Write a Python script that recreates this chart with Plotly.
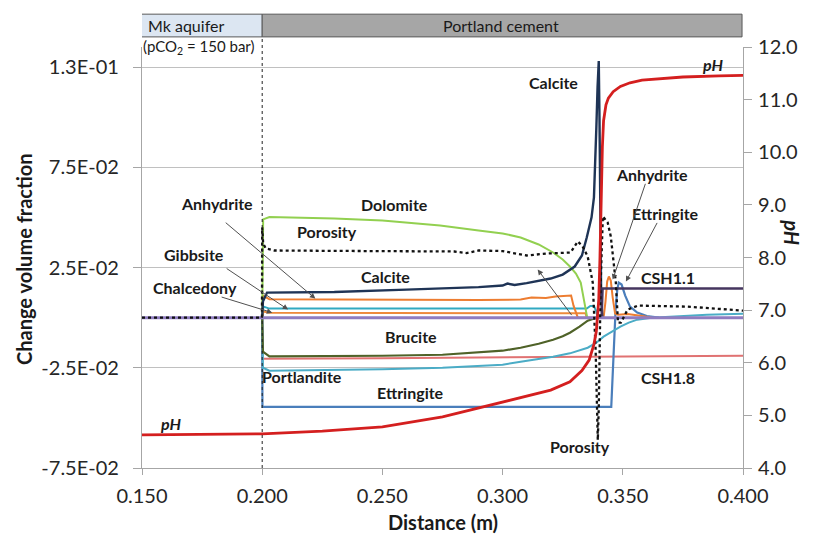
import plotly.graph_objects as go

# ---------------------------------------------------------------
# Reactive-transport profile: mineral volume-fraction change (left axis)
# and pH (right axis) across the Mk aquifer / Portland cement interface
# ---------------------------------------------------------------

# pH profile
ph_x = [0.150, 0.200, 0.225, 0.250, 0.275, 0.292, 0.300, 0.310, 0.320, 0.328,
        0.333, 0.336, 0.338, 0.339, 0.340, 0.3405, 0.341, 0.3415, 0.342, 0.343,
        0.344, 0.346, 0.349, 0.353, 0.358, 0.365, 0.375, 0.390, 0.400]
ph_val = [4.63, 4.65, 4.70, 4.78, 4.97, 5.16, 5.26, 5.36, 5.48, 5.64,
          5.85, 6.05, 6.35, 6.60, 7.20, 8.00, 9.20, 10.10, 10.60, 10.90,
          11.03, 11.15, 11.25, 11.32, 11.37, 11.40, 11.43, 11.45, 11.46]

# Calcite
calcite_x = [0.200, 0.2003, 0.202, 0.230, 0.260, 0.280, 0.290, 0.300, 0.302, 0.305,
             0.310, 0.320, 0.325, 0.330, 0.333, 0.335, 0.337, 0.338, 0.3385, 0.339,
             0.3395, 0.340, 0.3403, 0.3407, 0.341, 0.3415]
calcite_val = [0.0, 0.008, 0.0125, 0.0128, 0.0140, 0.0148, 0.0152, 0.0160, 0.0170, 0.0163,
               0.0172, 0.0195, 0.0215, 0.0255, 0.0310, 0.0400, 0.0500, 0.0600, 0.0750, 0.0950,
               0.1150, 0.1280, 0.1000, 0.0500, 0.0100, 0.0]

# Dolomite
dolomite_x = [0.200, 0.2004, 0.203, 0.230, 0.250, 0.274, 0.290, 0.300, 0.3075, 0.315,
              0.321, 0.325, 0.328, 0.3305, 0.3325, 0.334, 0.3352]
dolomite_val = [0.0, 0.049, 0.0502, 0.0495, 0.0485, 0.0460, 0.0435, 0.0420, 0.0400, 0.0365,
                0.0325, 0.0290, 0.0255, 0.0220, 0.0175, 0.0075, 0.0]

# Porosity
porosity_x = [0.150, 0.1999, 0.2000, 0.2004, 0.2015, 0.205, 0.230, 0.260, 0.280, 0.285,
              0.290, 0.300, 0.310, 0.3185, 0.3283, 0.3313, 0.3333, 0.3354, 0.3375, 0.3387,
              0.3396, 0.3400, 0.3408, 0.3417, 0.3437, 0.345, 0.3471, 0.348, 0.3492, 0.352,
              0.3563, 0.377, 0.400]
porosity_val = [0.0, 0.0, 0.045, 0.037, 0.0345, 0.0335, 0.0333, 0.0332, 0.0330, 0.0322,
                0.0335, 0.0332, 0.0310, 0.0320, 0.0325, 0.0380, 0.0355, 0.0305, 0.0175, -0.016,
                -0.061, -0.045, 0.0175, 0.0505, 0.0475, 0.0405, 0.0175, -0.0025, -0.0025, 0.004,
                0.006, 0.0055, 0.0035]

# Anhydrite
anhydrite_x = [0.200, 0.2003, 0.203, 0.250, 0.290, 0.3075, 0.312, 0.318, 0.322, 0.3285,
               0.3295, 0.3313, 0.342, 0.3428, 0.3435, 0.3442, 0.345, 0.3458, 0.3468, 0.348,
               0.352, 0.358, 0.362]
anhydrite_val = [0.0, 0.011, 0.0092, 0.0088, 0.0088, 0.0090, 0.0100, 0.0098, 0.0105, 0.0110,
                 0.0060, 0.0, 0.0, 0.0080, 0.0180, 0.0205, 0.0185, 0.0100, 0.0020, 0.0015,
                 0.0018, 0.0008, 0.0]

# Chalcedony
chalcedony_x = [0.200, 0.2005, 0.203, 0.330, 0.3345, 0.335]
chalcedony_val = [0.0, 0.0030, 0.0024, 0.0024, 0.0022, 0.0]

# Gibbsite
gibbsite_x = [0.200, 0.2005, 0.203, 0.300, 0.330, 0.335, 0.3365, 0.338, 0.339, 0.3395]
gibbsite_val = [0.0, 0.0055, 0.0045, 0.0045, 0.0045, 0.0045, 0.0058, 0.0058, 0.0030, 0.0]

# Portlandite
portlandite_x = [0.200, 0.2003, 0.203, 0.230, 0.250, 0.275, 0.290, 0.300, 0.3075, 0.315,
                 0.321, 0.328, 0.3354, 0.339, 0.342, 0.3455, 0.349, 0.3525, 0.356, 0.362,
                 0.3725, 0.385, 0.400]
portlandite_val = [0.0, -0.025, -0.0265, -0.0262, -0.0258, -0.0250, -0.0243, -0.0235, -0.0220, -0.0208,
                   -0.0195, -0.0178, -0.0150, -0.0125, -0.0095, -0.0070, -0.0045, -0.0025, -0.0010, 0.0,
                   0.0008, 0.0015, 0.0020]

# Brucite
brucite_x = [0.200, 0.2003, 0.203, 0.230, 0.250, 0.275, 0.290, 0.300, 0.3075, 0.315,
             0.321, 0.325, 0.328, 0.332, 0.3354, 0.3375, 0.339]
brucite_val = [0.0, -0.017, -0.0193, -0.0192, -0.0190, -0.0185, -0.0175, -0.0165, -0.0150, -0.0130,
               -0.0110, -0.0093, -0.0075, -0.0045, -0.0015, -0.0005, 0.0]

# Ettringite
ettringite_x = [0.200, 0.2001, 0.3452, 0.3462, 0.3470, 0.3477, 0.3483, 0.3495, 0.351, 0.353,
                0.356, 0.360, 0.365]
ettringite_val = [0.0, -0.0445, -0.0445, -0.0150, 0.0040, 0.0140, 0.0175, 0.0165, 0.0110, 0.0055,
                  0.0025, 0.0008, 0.0]

# CSH1.1
csh11_x = [0.3412, 0.3416, 0.400]
csh11_val = [0.0, 0.0145, 0.0145]

# CSH1.8
csh18_x = [0.200, 0.2001, 0.250, 0.300, 0.350, 0.400]
csh18_val = [0.0, -0.0205, -0.0202, -0.0198, -0.0194, -0.0190]

# unaltered reference (no change)
base_x = [0.150, 0.400]
base_val = [0.0, 0.0]

# axis ticks
x_ticks = [0.150, 0.200, 0.250, 0.300, 0.350, 0.400]
x_tick_text = ["0.150", "0.200", "0.250", "0.300", "0.350", "0.400"]
y_ticks = [-0.075, -0.025, 0.025, 0.075, 0.125]
y_tick_text = ["-7.5E-02", "-2.5E-02", "2.5E-02", "7.5E-02", "1.3E-01"]

FONT = "Lato, 'Open Sans', sans-serif"
TXT = "#1a1a1a"
AX = "#a6a6a6"
TICK_SIZE = 20

fig = go.Figure()


def add_line(xs, ys, color, width=2.0, dash=None, axis="y"):
    fig.add_trace(go.Scatter(
        x=xs, y=ys, mode="lines", yaxis=axis, showlegend=False, hoverinfo="skip",
        line=dict(color=color, width=width, dash=dash),
    ))


add_line(csh18_x, csh18_val, "#e07272", 2.0)
add_line(ettringite_x, ettringite_val, "#4a7ebb", 2.2)
add_line(portlandite_x, portlandite_val, "#4bacc6", 2.0)
add_line(brucite_x, brucite_val, "#4f6228", 2.2)
add_line(gibbsite_x, gibbsite_val, "#31a9c1", 2.0)
add_line(chalcedony_x, chalcedony_val, "#ee8a3c", 2.0)
add_line(anhydrite_x, anhydrite_val, "#ed7d31", 2.0)
add_line(dolomite_x, dolomite_val, "#92d050", 2.0)
add_line(calcite_x, calcite_val, "#1f3456", 2.4)
add_line(csh11_x, csh11_val, "#45365f", 2.4)
add_line(base_x, base_val, "#8f7cc0", 3.0)
add_line(porosity_x, porosity_val, "#111111", 2.3, dash="dot")
add_line(ph_x, ph_val, "#d41f1f", 2.8, axis="y2")

# ---- zone header boxes -------------------------------------------------
fig.add_shape(type="rect", xref="x", yref="paper", x0=0.1483, x1=0.200, y0=1.024, y1=1.078,
              fillcolor="#dce6f2", line=dict(color="#595959", width=1))
fig.add_shape(type="rect", xref="x", yref="paper", x0=0.200, x1=0.3996, y0=1.024, y1=1.078,
              fillcolor="#a6a6a6", line=dict(color="#595959", width=1))
# aquifer / cement interface
fig.add_shape(type="line", xref="x", yref="paper", x0=0.200, x1=0.200, y0=0.0, y1=1.024,
              line=dict(color="#222222", width=1, dash="dot"))

ann = []


def label(x, y, text, size=16, italic=False, color=TXT):
    t = "<b>%s</b>" % text
    if italic:
        t = "<i>%s</i>" % t
    ann.append(dict(x=x, y=y, xref="x", yref="y", text=t, showarrow=False,
                    xanchor="center", yanchor="middle", font=dict(family=FONT, size=size, color=color)))


def arrow(x_tail, y_tail, x_head, y_head):
    ann.append(dict(x=x_head, y=y_head, xref="x", yref="y", ax=x_tail, ay=y_tail,
                    axref="x", ayref="y", text="", showarrow=True, arrowhead=2,
                    arrowsize=1.1, arrowwidth=1, arrowcolor="#505050", standoff=0))


# curve labels
label(0.3213, 0.1175, "Calcite")
label(0.3875, 0.1265, "pH", italic=True)
label(0.2550, 0.0565, "Dolomite")
label(0.2270, 0.0430, "Porosity")
label(0.2512, 0.0205, "Calcite")
label(0.1813, 0.0570, "Anhydrite")
label(0.1717, 0.0315, "Gibbsite")
label(0.1721, 0.0150, "Chalcedony")
label(0.2620, -0.0095, "Brucite")
label(0.2167, -0.0295, "Portlandite")
label(0.2617, -0.0375, "Ettringite")
label(0.1617, -0.0530, "pH", italic=True)
label(0.3621, 0.0715, "Anhydrite")
label(0.3679, 0.0520, "Ettringite")
label(0.3688, 0.0200, "CSH1.1")
label(0.3688, -0.0300, "CSH1.8")
label(0.3321, -0.0645, "Porosity")

# pointers
arrow(0.1842, 0.0480, 0.2221, 0.0095)
arrow(0.1846, 0.0250, 0.2108, 0.0040)
arrow(0.1825, 0.0105, 0.2042, 0.0025)
arrow(0.3292, 0.0005, 0.3146, 0.0240)
arrow(0.3596, 0.0675, 0.3458, 0.0190)
arrow(0.3646, 0.0480, 0.3513, 0.0180)

# header texts
ann.append(dict(x=0.1515, y=1.051, xref="x", yref="paper", text="Mk aquifer", showarrow=False,
                xanchor="left", yanchor="middle", font=dict(family=FONT, size=16, color=TXT)))
ann.append(dict(x=0.2995, y=1.051, xref="x", yref="paper", text="Portland cement", showarrow=False,
                xanchor="center", yanchor="middle", font=dict(family=FONT, size=16, color=TXT)))
ann.append(dict(x=0.1980, y=1.0, xref="x", yref="paper", text="(pCO<sub>2</sub> = 150 bar)",
                showarrow=False, xanchor="right", yanchor="middle",
                font=dict(family=FONT, size=15, color=TXT)))

# axis titles
ann.append(dict(x=-0.196, y=0.497, xref="paper", yref="paper", text="<b>Change volume fraction</b>",
                showarrow=False, textangle=-90, xanchor="center", yanchor="middle",
                font=dict(family=FONT, size=20, color=TXT)))
ann.append(dict(x=1.0815, y=0.56, xref="paper", yref="paper", text="<b><i>pH</i></b>",
                showarrow=False, textangle=90, xanchor="center", yanchor="middle",
                font=dict(family=FONT, size=20, color=TXT)))
ann.append(dict(x=0.5, y=-0.128, xref="paper", yref="paper", text="<b>Distance (m)</b>",
                showarrow=False, xanchor="center", yanchor="middle",
                font=dict(family=FONT, size=20, color=TXT)))

fig.update_layout(
    width=834, height=537,
    margin=dict(l=142, r=91, t=47, b=69),
    paper_bgcolor="white", plot_bgcolor="white",
    font=dict(family=FONT, color="#262626"),
    annotations=ann,
    xaxis=dict(range=[0.150, 0.400], tickvals=x_ticks, ticktext=x_tick_text,
               showgrid=False, zeroline=False, showline=True, linecolor=AX, linewidth=1.2,
               ticks="outside", ticklen=6, tickcolor=AX, ticklabelstandoff=4,
               tickfont=dict(size=TICK_SIZE, family=FONT)),
    yaxis=dict(range=[-0.075, 0.135], tickvals=y_ticks, ticktext=y_tick_text,
               showgrid=True, gridcolor="#c0c0c0", gridwidth=1.3, zeroline=False,
               showline=True, linecolor=AX, linewidth=1.2, ticks="outside", ticklen=8,
               tickcolor=AX, tickfont=dict(size=TICK_SIZE, family=FONT), ticklabelstandoff=10),
    yaxis2=dict(range=[4, 12], dtick=1, tickformat=".1f", overlaying="y", side="right",
                showgrid=False, zeroline=False, showline=True, linecolor=AX, linewidth=1.2,
                ticks="outside", ticklen=8, tickcolor=AX, ticklabelstandoff=2,
                tickfont=dict(size=TICK_SIZE, family=FONT)),
)

fig.write_html("out.html")
